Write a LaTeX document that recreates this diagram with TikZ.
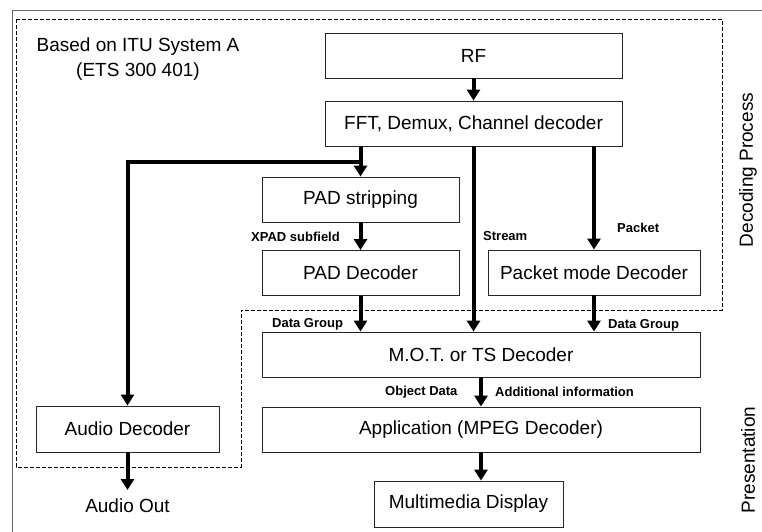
\documentclass[tikz,border=0pt]{standalone}
\usepackage{fontspec}
\setmainfont{Liberation Sans}
\usetikzlibrary{arrows.meta}

\begin{document}
\begin{tikzpicture}[x=1pt, y=-1pt,
	blk/.style={draw=black!85, line width=0.9pt, minimum height=45pt, inner sep=3pt, font=\fontsize{19}{22}\selectfont},
	lbl/.style={inner sep=0pt, font=\fontsize{13}{14}\selectfont\bfseries},
	big/.style={inner sep=0pt, font=\fontsize{19}{25}\selectfont},
	arr/.style={line width=4pt, -{Triangle[width=13pt,length=11pt]}},
	zone/.style={line width=0.9pt, dash pattern=on 4pt off 2pt}]
		\useasboundingbox (0,0) rectangle (762,532);
		\draw[black!60, line width=0.6pt] (12,532) |- (762,10);
		\draw[zone] (16,19) -- (722,19) -- (722,310) -- (241,310) -- (241,467) -- (16,467) -- cycle;

		\draw (473.5,55.5) node[blk, minimum width=297pt] (rf){RF}
		(473.5,123.5) node[blk, minimum width=297pt] (fft){FFT, Demux, Channel decoder}
		(360.5,199.5) node[blk, minimum width=197pt] (pads){PAD stripping}
		(360.5,273) node[blk, minimum width=197pt] (padd){PAD Decoder}
		(594,272.5) node[blk, minimum width=212pt] (pkt){Packet mode Decoder}
		(481,354.5) node[blk, minimum width=438pt] (mot){M.O.T. or TS Decoder}
		(481,429.5) node[blk, minimum width=438pt] (app){Application (MPEG Decoder)}
		(468.5,504) node[blk, minimum width=189pt, minimum height=46pt] (disp){Multimedia Display}
		(127.5,429) node[blk, minimum width=183pt, minimum height=46pt] (audio){Audio Decoder}
		(127.5,490) node[big, anchor=north, inner sep=9pt] (aout){Audio Out};

		\node[big, align=center] (itu) at (138,59.5) {Based on ITU System A\\(ETS 300 401)};
		\node[big, rotate=90] (dec) at (748,170) {Decoding Process};
		\node[big, rotate=90] (pres) at (748,460) {Presentation};

		\node[lbl, anchor=east] (xpad) at (340,237) {XPAD subfield};
		\node[lbl, anchor=west] (strm) at (483,236) {Stream};
		\node[lbl, anchor=west] (pack) at (617,228) {Packet};
		\node[lbl, anchor=west] (dgl) at (272,324) {Data Group};
		\node[lbl, anchor=west] (dgr) at (608,325) {Data Group};
		\node[lbl, anchor=west] (obj) at (385,392) {Object Data};
		\node[lbl, anchor=west] (add) at (495,392) {Additional information};

		\coordinate (split) at (360.5,162);

		\draw[arr] (rf) -- (fft);
		\draw[arr] (fft.south -| pads.north) -- (pads.north);
		\draw[arr] (split) -| (audio.north);
		\draw[arr] (pads) -- (padd);
		\draw[arr] (padd.south) -- (padd.south |- mot.north);
		\draw[arr] (fft.south) -- (fft.south |- mot.north);
		\draw[arr] (fft.south -| pkt.north) -- (pkt.north);
		\draw[arr] (pkt.south) -- (pkt.south |- mot.north);
		\draw[arr] (mot) -- (app);
		\draw[arr] (app.south) -- (app.south |- disp.north);
		\draw[arr] (audio) -- (aout);
	\end{tikzpicture}
\end{document}
